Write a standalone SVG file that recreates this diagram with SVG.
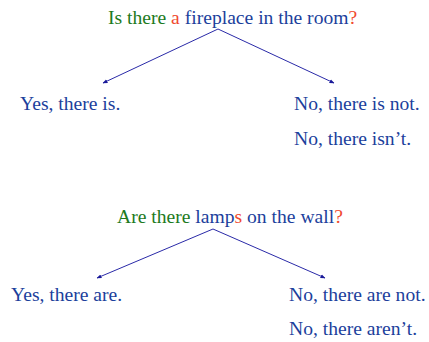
<svg xmlns="http://www.w3.org/2000/svg" width="429" height="342" viewBox="0 0 429 342">
<style>
text{font-family:"Liberation Serif","Times New Roman",serif;font-size:19.6px;fill:#1c3f9c}
.g{fill:#1d7a1d}
.r{fill:#f04a30}
.c{stroke:#2a2aa8;stroke-width:1;fill:none;marker-end:url(#ah)}
</style>
<defs>
<marker id="ah" viewBox="0 0 10 10" refX="9" refY="5" markerWidth="5" markerHeight="5" orient="auto" markerUnits="userSpaceOnUse">
<path d="M0,1 L10,5 L0,9 z" fill="#1a1a99"/>
</marker>
</defs>
<g id="connectors">
<path class="c" d="M218,29 L103,83"/>
<path class="c" d="M218,29 L334,83"/>
<path class="c" d="M213,229 L97,278"/>
<path class="c" d="M213,229 L325,278"/>
</g>
<g id="q1"><text x="108" y="24"><tspan class="g">Is there </tspan><tspan class="r">a</tspan> fireplace in the room<tspan class="r">?</tspan></text></g>
<g id="a1"><text x="20" y="110">Yes, there is.</text></g>
<g id="n1"><text x="294" y="110">No, there is not.</text></g>
<g id="n1b"><text x="294" y="145">No, there isn’t.</text></g>
<g id="q2"><text x="117" y="223"><tspan class="g">Are there </tspan>lamp<tspan class="r">s</tspan> on the wall<tspan class="r">?</tspan></text></g>
<g id="a2"><text x="11" y="301">Yes, there are.</text></g>
<g id="n2"><text x="289" y="301">No, there are not.</text></g>
<g id="n2b"><text x="289" y="335">No, there aren’t.</text></g>
</svg>
